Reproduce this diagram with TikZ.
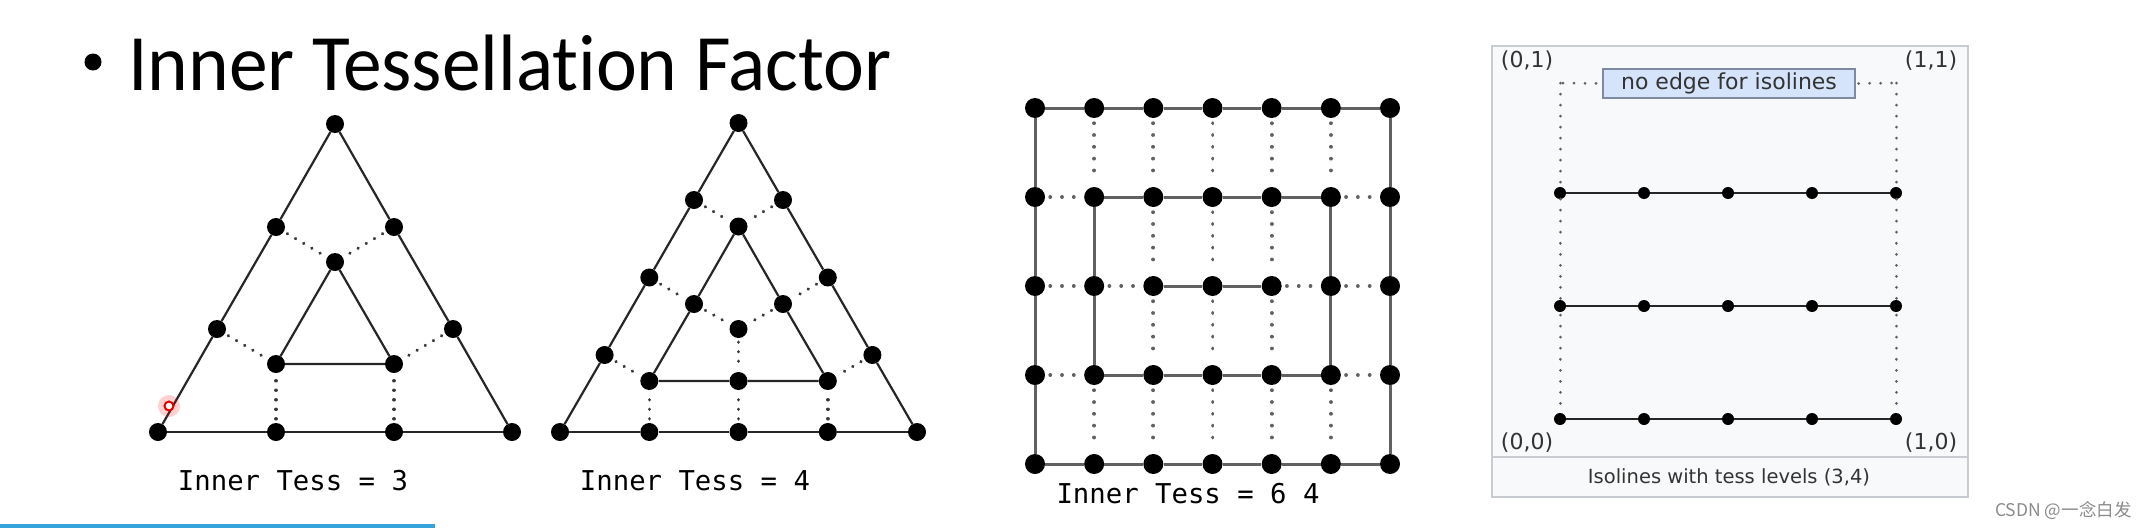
\documentclass[tikz,border=0pt]{standalone}
\usepackage{fontspec}
\setmainfont{Carlito}[Ligatures=NoCommon]
\newfontfamily\tessmono{DejaVu Sans Mono}
\newfontfamily\wikisans{DejaVu Sans}
\newfontfamily\cjksans{Noto Sans CJK SC}
\usetikzlibrary{positioning}
\definecolor{panelbg}{HTML}{F8F9FA}
\definecolor{panelline}{HTML}{C8CCD1}
\definecolor{notefill}{HTML}{D6E4FB}
\definecolor{noteline}{HTML}{7D8AA0}
\definecolor{slideblue}{HTML}{36A3DC}
\definecolor{markgray}{HTML}{8A8A8A}

\begin{document}
\begin{tikzpicture}[x=1pt, y=-1pt,
  vtx/.style={circle, fill=black, inner sep=0pt, minimum size=18pt},
  qvtx/.style={vtx, minimum size=20pt},
  ivtx/.style={vtx, minimum size=12pt},
  edge/.style={line width=2.2pt, black!85},
  dots/.style={line width=3.5pt, black!78, line cap=round, dash pattern=on 0.01pt off 9.5pt, shorten <=4pt, shorten >=4pt},
  qedge/.style={line width=3pt, black!62},
  qdots/.style={line width=3.8pt, black!62, line cap=round, dash pattern=on 0.01pt off 11.8pt, shorten <=5pt, shorten >=5pt},
  iedge/.style={line width=2.6pt, black!85},
  idots/.style={line width=3pt, black!62, line cap=round, dash pattern=on 0.01pt off 11pt, shorten <=3pt, shorten >=3pt},
  tesslbl/.style={font=\tessmono\fontsize{27.3}{30}\selectfont, anchor=base, inner sep=0pt},
  wiki/.style={font=\wikisans\fontsize{22}{26}\selectfont, text=black!80, inner sep=0pt},
]
\useasboundingbox (0,0) rectangle (2147,528);

% title
\node[circle, fill=black, minimum size=17pt, inner sep=0pt] (bullet) at (93,62) {};
\node[anchor=base west, inner sep=0pt, xscale=0.968, font=\fontsize{80}{96}\selectfont] (title) at (128,90) {Inner Tessellation Factor};

% inner tess = 3
\node[vtx] (t3-top) at (335,124) {};
\node[vtx] (t3-l1) at (276,227) {};
\node[vtx] (t3-l2) at (217,329) {};
\node[vtx] (t3-r1) at (394,227) {};
\node[vtx] (t3-r2) at (453,329) {};
\node[vtx] (t3-b0) at (158,432) {};
\node[vtx] (t3-b1) at (276,432) {};
\node[vtx] (t3-b2) at (394,432) {};
\node[vtx] (t3-b3) at (512,432) {};
\node[vtx] (t3-itop) at (335,262) {};
\node[vtx] (t3-ib1) at (276,364) {};
\node[vtx] (t3-ib2) at (394,364) {};

\draw[edge] (t3-top) -- (t3-l1) -- (t3-l2) -- (t3-b0);
\draw[edge] (t3-top) -- (t3-r1) -- (t3-r2) -- (t3-b3);
\draw[edge] (t3-b0) -- (t3-b1) -- (t3-b2) -- (t3-b3);
\draw[edge] (t3-itop) -- (t3-ib1) -- (t3-ib2) -- (t3-itop);
\draw[dots] (t3-l1) -- (t3-itop);
\draw[dots] (t3-r1) -- (t3-itop);
\draw[dots] (t3-l2) -- (t3-ib1);
\draw[dots] (t3-r2) -- (t3-ib2);
\draw[dots] (t3-b1) -- (t3-ib1);
\draw[dots] (t3-b2) -- (t3-ib2);
\node[tesslbl] (lbl3) at (293,490) {Inner Tess = 3};

% inner tess = 4
\node[vtx] (t4-top) at (738.5,123) {};
\node[vtx] (t4-l1) at (694,200) {};
\node[vtx] (t4-l2) at (649.3,277.5) {};
\node[vtx] (t4-l3) at (604.6,355) {};
\node[vtx] (t4-r1) at (783,200) {};
\node[vtx] (t4-r2) at (827.8,277.5) {};
\node[vtx] (t4-r3) at (872.4,355) {};
\node[vtx] (t4-b0) at (560,432) {};
\node[vtx] (t4-b1) at (649.3,432) {};
\node[vtx] (t4-b2) at (738.5,432) {};
\node[vtx] (t4-b3) at (827.8,432) {};
\node[vtx] (t4-b4) at (917,432) {};
\node[vtx] (t4-itop) at (738.5,226.5) {};
\node[vtx] (t4-il) at (694,304) {};
\node[vtx] (t4-ir) at (783,304) {};
\node[vtx] (t4-ib0) at (649.3,381) {};
\node[vtx] (t4-ib1) at (738.5,381) {};
\node[vtx] (t4-ib2) at (827.8,381) {};
\node[vtx] (t4-mid) at (738.5,329) {};

\draw[edge] (t4-top) -- (t4-l1) -- (t4-l2) -- (t4-l3) -- (t4-b0);
\draw[edge] (t4-top) -- (t4-r1) -- (t4-r2) -- (t4-r3) -- (t4-b4);
\draw[edge] (t4-b0) -- (t4-b1) -- (t4-b2) -- (t4-b3) -- (t4-b4);
\draw[edge] (t4-itop) -- (t4-il) -- (t4-ib0) -- (t4-ib1) -- (t4-ib2) -- (t4-ir) -- (t4-itop);
\draw[dots] (t4-l1) -- (t4-itop);
\draw[dots] (t4-r1) -- (t4-itop);
\draw[dots] (t4-l2) -- (t4-il);
\draw[dots] (t4-r2) -- (t4-ir);
\draw[dots] (t4-il) -- (t4-mid);
\draw[dots] (t4-ir) -- (t4-mid);
\draw[dots] (t4-mid) -- (t4-ib1);
\draw[dots] (t4-l3) -- (t4-ib0);
\draw[dots] (t4-r3) -- (t4-ib2);
\draw[dots] (t4-b1) -- (t4-ib0);
\draw[dots] (t4-b2) -- (t4-ib1);
\draw[dots] (t4-b3) -- (t4-ib2);
\node[tesslbl] (lbl4) at (695,490) {Inner Tess = 4};

% inner tess = 6 4
\foreach \i in {0,...,6}
  \foreach \j in {0,...,4}
    \node[qvtx] (q-\i-\j) at ({1035+59.17*\i},{108+89*\j}) {};

\foreach \i in {0,...,5} {
  \pgfmathtruncatemacro{\nx}{\i+1}
  \draw[qedge] (q-\i-0) -- (q-\nx-0);
  \draw[qedge] (q-\i-4) -- (q-\nx-4);
}
\foreach \j in {0,...,3} {
  \pgfmathtruncatemacro{\ny}{\j+1}
  \draw[qedge] (q-0-\j) -- (q-0-\ny);
  \draw[qedge] (q-6-\j) -- (q-6-\ny);
}
\foreach \i in {1,...,4} {
  \pgfmathtruncatemacro{\nx}{\i+1}
  \draw[qedge] (q-\i-1) -- (q-\nx-1);
  \draw[qedge] (q-\i-3) -- (q-\nx-3);
}
\foreach \j in {1,2} {
  \pgfmathtruncatemacro{\ny}{\j+1}
  \draw[qedge] (q-1-\j) -- (q-1-\ny);
  \draw[qedge] (q-5-\j) -- (q-5-\ny);
}
\draw[qedge] (q-2-2) -- (q-3-2) -- (q-4-2);

\foreach \i in {1,...,5} {
  \draw[qdots] (q-\i-0) -- (q-\i-1);
  \draw[qdots] (q-\i-3) -- (q-\i-4);
}
\foreach \i in {2,3,4} {
  \draw[qdots] (q-\i-1) -- (q-\i-2);
  \draw[qdots] (q-\i-2) -- (q-\i-3);
}
\foreach \j in {1,2,3} {
  \draw[qdots] (q-0-\j) -- (q-1-\j);
  \draw[qdots] (q-5-\j) -- (q-6-\j);
}
\draw[qdots] (q-1-2) -- (q-2-2);
\draw[qdots] (q-4-2) -- (q-5-2);
\node[tesslbl] (lbl64) at (1188,503) {Inner Tess = 6 4};

% isolines
\node[draw=panelline, fill=panelbg, line width=1.5pt, minimum width=476pt, minimum height=451pt, inner sep=0pt] (panel) at (1730,271.5) {};
\coordinate (sepy) at (1730,457);
\draw[panelline, line width=1.5pt] (sepy -| panel.west) -- (sepy -| panel.east);

\foreach \i in {0,...,4}
  \foreach \j in {0,1,2}
    \node[ivtx] (s-\i-\j) at ({1560+84*\i},{193+113*\j}) {};
\foreach \j in {0,1,2}
  \draw[iedge] (s-0-\j) -- (s-1-\j) -- (s-2-\j) -- (s-3-\j) -- (s-4-\j);

\node[wiki, draw=noteline, fill=notefill, line width=1.2pt, minimum width=252pt, minimum height=29pt] (note) at (1729,83.5) {no edge for isolines};
\coordinate (tl) at (1560,83);
\coordinate (tr) at (1896,83);
\draw[idots] (tl) -- (note.west);
\draw[idots] (note.east) -- (tr);
\draw[idots] (tl) -- (s-0-0) -- (s-0-1) -- (s-0-2);
\draw[idots] (tr) -- (s-4-0) -- (s-4-1) -- (s-4-2);

\node[wiki] (c01) at (1527,61) {(0,1)};
\node[wiki] (c11) at (1931,61) {(1,1)};
\node[wiki] (c00) at (1527,443) {(0,0)};
\node[wiki] (c10) at (1931,443) {(1,0)};
\node[wiki, font=\wikisans\fontsize{19.5}{24}\selectfont] (caption) at (1729,477) {Isolines with tess levels (3,4)};

% pointer, slide bar, mark
\fill[red, opacity=0.18] (169,406) circle (11);
\draw[red!90!black, line width=2pt, fill=white] (169,406) circle (4.5);
\fill[slideblue] (0,524) rectangle (435,528);
\node[anchor=base west, inner sep=0pt, text=markgray, font=\cjksans\fontsize{17.5}{20}\selectfont] (mark) at (1995,516) {CSDN @一念白发};
\end{tikzpicture}
\end{document}
